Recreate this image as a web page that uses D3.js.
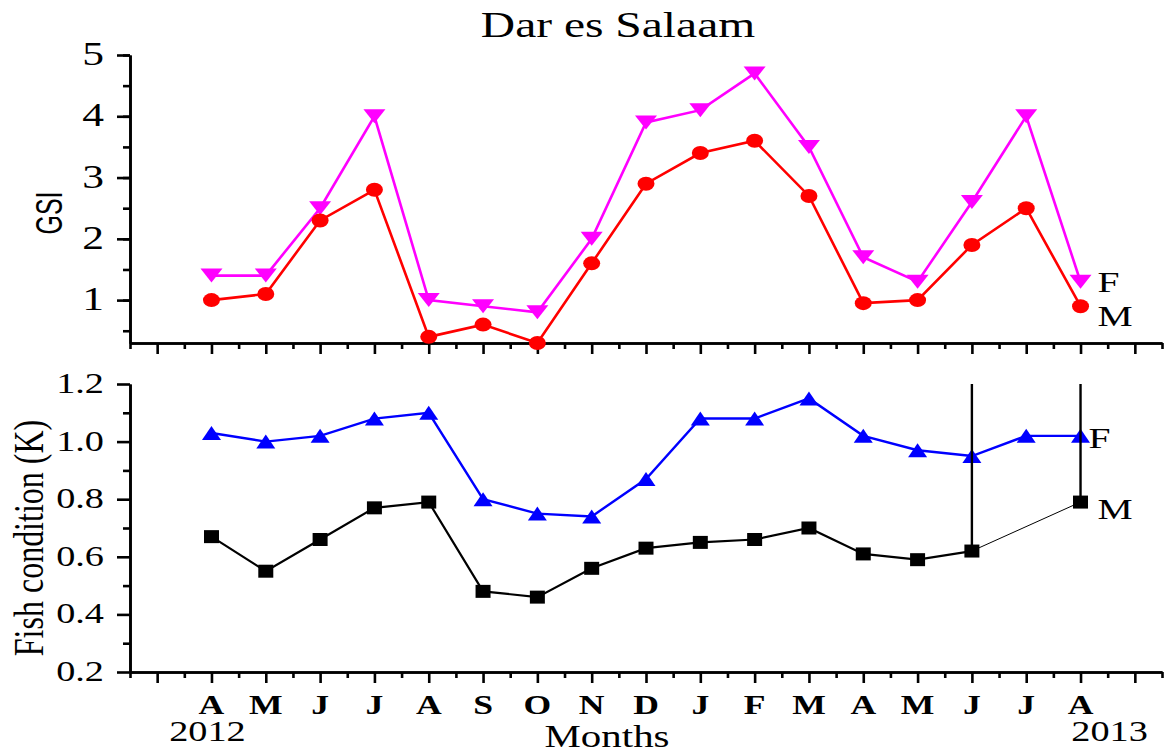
<!DOCTYPE html>
<html>
<head>
<meta charset="utf-8">
<script src="https://cdn.jsdelivr.net/npm/d3@7"></script>
<style>
  body { margin: 0; background: #fff; }
  text { font-family: "Liberation Serif", "Times New Roman", serif; fill: #000; }
</style>
</head>
<body>
<div id="chart"></div>
<script>
// Months from April 2012 to August 2013
const months = ["A", "M", "J", "J", "A", "S", "O", "N", "D", "J", "F", "M", "A", "M", "J", "J", "A"];
const years = ["2012", "2013"];
const yearAt = [0, 16];

// GSI (top panel)
const gsiFemale = [1.4, 1.4, 2.5, 4.0, 1.0, 0.9, 0.8, 2.0, 3.9, 4.1, 4.7, 3.5, 1.7, 1.3, 2.6, 4.0, 1.3];
const gsiMale = [1.0, 1.1, 2.3, 2.8, 0.4, 0.6, 0.3, 1.6, 2.9, 3.4, 3.6, 2.7, 0.95, 1.0, 1.9, 2.5, 0.9];
const gsiTicks = [1, 2, 3, 4, 5];

// Fish condition K (bottom panel)
const kFemale = [1.03, 1.0, 1.02, 1.08, 1.1, 0.8, 0.75, 0.74, 0.87, 1.08, 1.08, 1.15, 1.02, 0.97, 0.95, 1.02, 1.02];
const kMale = [0.67, 0.55, 0.66, 0.77, 0.79, 0.48, 0.46, 0.56, 0.63, 0.65, 0.66, 0.7, 0.61, 0.59, 0.62, null, 0.79];
const kMaleErr = [0, 0, 0, 0, 0, 0, 0, 0, 0, 0, 0, 0, 0, 0, 0.75, 0, 0.55];
const kTicks = [0.2, 0.4, 0.6, 0.8, 1.0, 1.2];

const width = 1165, height = 753;
const sx = 1.32; // the figure is a little wider than tall

const svg = d3.select("#chart")
  .append("svg")
  .attr("width", width)
  .attr("height", height);

const x = d3.scaleLinear().domain([-1.5, 17.5]).range([130, 1162]);
const yTop = d3.scaleLinear().domain([0.3, 5]).range([343, 55]);
const yBot = d3.scaleLinear().domain([0.2, 1.2]).range([672, 384]);

const majorX = d3.range(-1, 18);
const minorX = d3.range(-1.5, 17.6, 1);

// marker shapes
function shapePath(kind, w, h) {
  if (kind === "circle") {
    var rx = w / 2, ry = h / 2;
    return "M" + -rx + ",0A" + rx + "," + ry + " 0 1,0 " + rx + ",0A" + rx + "," + ry + " 0 1,0 " + -rx + ",0Z";
  }
  if (kind === "up") return "M0," + -h / 2 + "L" + w / 2 + "," + h / 2 + "L" + -w / 2 + "," + h / 2 + "Z";
  if (kind === "down") return "M0," + h / 2 + "L" + w / 2 + "," + -h / 2 + "L" + -w / 2 + "," + -h / 2 + "Z";
  return "M" + -w / 2 + "," + -h / 2 + "h" + w + "v" + h + "h" + -w + "Z";
}

function stretchText(g, px, py, str, size, anchor, weight) {
  return g.append("text")
    .attr("transform", "translate(" + px + "," + py + ") scale(" + sx + ",1)")
    .attr("text-anchor", anchor)
    .style("font-size", size + "px")
    .style("font-weight", weight || "normal")
    .text(str);
}

function drawAxes(y, yMajor, yMinor, labelSize, labelDy) {
  var g = svg.append("g").attr("class", "axes");

  g.append("g")
    .attr("transform", "translate(130,0)")
    .call(d3.axisLeft(y).tickValues(yMinor).tickSize(7).tickSizeOuter(0).tickFormat(""));
  g.append("g")
    .attr("transform", "translate(130,0)")
    .call(d3.axisLeft(y).tickValues(yMajor).tickSize(13).tickSizeOuter(0).tickFormat(""));

  var y0 = y.range()[0];
  g.append("g")
    .attr("transform", "translate(0," + y0 + ")")
    .call(d3.axisBottom(x).tickValues(minorX).tickSize(6).tickSizeOuter(0).tickFormat(""));
  g.append("g")
    .attr("transform", "translate(0," + y0 + ")")
    .call(d3.axisBottom(x).tickValues(majorX).tickSize(11).tickSizeOuter(0).tickFormat(""));

  g.selectAll(".domain, .tick line")
    .attr("stroke", "#000")
    .attr("stroke-width", 2.6);

  yMajor.forEach(function (v) {
    var lbl = y.domain()[1] < 2 ? d3.format(".1f")(v) : String(v);
    stretchText(g, 104, y(v) + labelDy, lbl, labelSize, "end");
  });
  return g;
}

function drawSeries(g, y, values, color, kind, w, h, lw) {
  var line = d3.line()
    .defined(function (d) { return d != null; })
    .x(function (d, i) { return x(i); })
    .y(function (d) { return y(d); });

  // thin connector across missing months
  var pts = values.map(function (d, i) { return { i: i, v: d }; }).filter(function (d) { return d.v != null; });
  for (var k = 1; k < pts.length; k++) {
    if (pts[k].i - pts[k - 1].i > 1) {
      g.append("line")
        .attr("x1", x(pts[k - 1].i)).attr("y1", y(pts[k - 1].v))
        .attr("x2", x(pts[k].i)).attr("y2", y(pts[k].v))
        .attr("stroke", color)
        .attr("stroke-width", 1);
    }
  }

  g.append("path")
    .datum(values)
    .attr("fill", "none")
    .attr("stroke", color)
    .attr("stroke-width", lw)
    .attr("d", line);

  g.selectAll(".mk-" + kind)
    .data(pts)
    .enter()
    .append("path")
    .attr("class", "mk-" + kind)
    .attr("transform", function (d) { return "translate(" + x(d.i) + "," + y(d.v) + ")"; })
    .attr("d", shapePath(kind, w, h))
    .attr("fill", color);
}

// ---- title
stretchText(svg, 618, 37, "Dar es Salaam", 36, "middle");

// ---- top panel: GSI
drawAxes(yTop, gsiTicks, d3.range(0.5, 5.01, 0.5), 33, 10);
const gsiG = svg.append("g").attr("class", "gsi");
drawSeries(gsiG, yTop, gsiFemale, "#ff00ff", "down", 22, 14, 2.6);
drawSeries(gsiG, yTop, gsiMale, "#ff0000", "circle", 17, 14, 2.6);

svg.append("text")
  .attr("transform", "translate(62,213) rotate(-90) scale(1,1.45)")
  .attr("text-anchor", "middle")
  .style("font-family", "'Liberation Sans', Arial, sans-serif")
  .style("font-size", "25px")
  .text("GSI");

const last = months.length - 1;
stretchText(svg, x(last) + 17, yTop(gsiFemale[last]) + 10, "F", 30, "start");
stretchText(svg, x(last) + 17, yTop(gsiMale[last]) + 20, "M", 30, "start");

// ---- bottom panel: fish condition
drawAxes(yBot, kTicks, d3.range(0.3, 1.21, 0.2), 29, 9);

svg.append("clipPath")
  .attr("id", "clipBot")
  .append("rect")
  .attr("x", 130).attr("y", 384)
  .attr("width", 1032).attr("height", 288);

const kG = svg.append("g").attr("class", "kcond");
drawSeries(kG, yBot, kFemale, "#0000ff", "up", 19, 14, 2.4);

kG.append("g")
  .attr("clip-path", "url(#clipBot)")
  .selectAll(".err")
  .data(kMale.map(function (d, i) { return { i: i, v: d, e: kMaleErr[i] }; })
    .filter(function (d) { return d.v != null && d.e > 0; }))
  .enter()
  .append("line")
  .attr("class", "err")
  .attr("x1", function (d) { return x(d.i); })
  .attr("x2", function (d) { return x(d.i); })
  .attr("y1", function (d) { return yBot(d.v); })
  .attr("y2", function (d) { return yBot(d.v + d.e); })
  .attr("stroke", "#000")
  .attr("stroke-width", 2.4);

drawSeries(kG, yBot, kMale, "#000000", "square", 15, 13, 2.2);

svg.append("text")
  .attr("transform", "translate(43,538) rotate(-90) scale(1," + sx + ")")
  .attr("text-anchor", "middle")
  .style("font-size", "32px")
  .text("Fish condition (K)");

stretchText(svg, x(last) + 8, yBot(kFemale[last]) + 12, "F", 30, "start");
stretchText(svg, x(last) + 17, yBot(kMale[last]) + 17, "M", 30, "start");

// ---- month labels, years, axis title
months.forEach(function (m, i) {
  stretchText(svg, x(i), 714, m, 27, "middle", "bold");
});
years.forEach(function (yr, i) {
  var dx = i === 0 ? -4 : 29;
  stretchText(svg, x(yearAt[i]) + dx, 741, yr, 29, "middle");
});
stretchText(svg, 607, 747, "Months", 31, "middle");
</script>
</body>
</html>
